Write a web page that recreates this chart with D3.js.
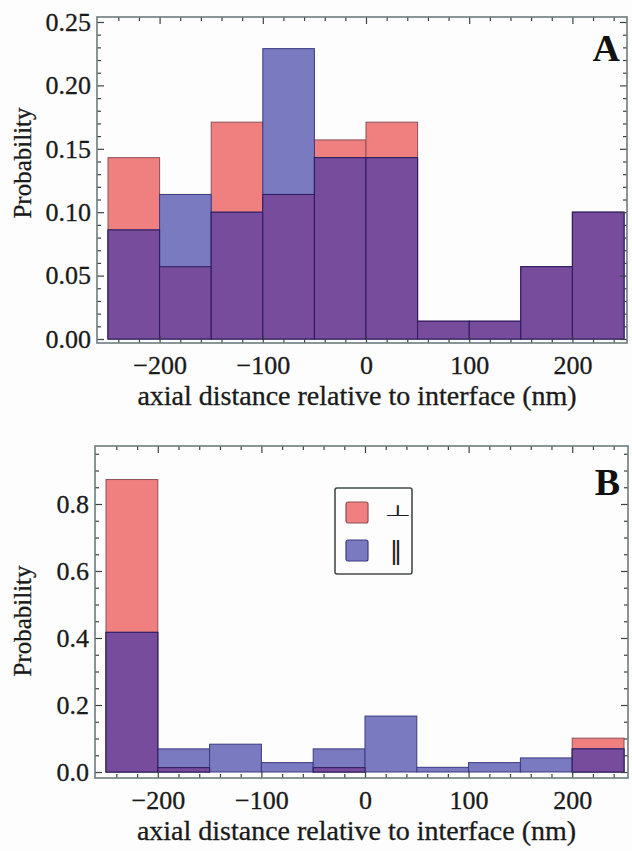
<!DOCTYPE html>
<html>
<head>
<meta charset="utf-8">
<script src="https://cdn.jsdelivr.net/npm/d3@7.9.0/dist/d3.min.js"></script>
<style>
  body { margin: 0; background: #fdfdfd; }
  svg { display: block; }
</style>
</head>
<body>
<svg id="chart" width="632" height="851"></svg>
<script>
// bins of 50 nm from -250 to 250
const binEdges = [-250, -200, -150, -100, -50, 0, 50, 100, 150, 200, 250];

// panel A
const perpA = [0.143, 0.057, 0.171, 0.114, 0.157, 0.171, 0.014, 0.014, 0.057, 0.100];
const parA  = [0.086, 0.114, 0.100, 0.229, 0.143, 0.143, 0.014, 0.014, 0.057, 0.100];
// panel B
const perpB = [0.873, 0.013, 0.000, 0.000, 0.013, 0.000, 0.000, 0.000, 0.000, 0.101];
const parB  = [0.417, 0.069, 0.083, 0.028, 0.069, 0.167, 0.014, 0.028, 0.042, 0.069];

const xTicks = [-200, -100, 0, 100, 200];
const yTicksA = [0, 0.05, 0.10, 0.15, 0.20, 0.25];
const yTicksB = [0, 0.2, 0.4, 0.6, 0.8];

const legendLabels = ['\u22A5', '\u2016'];

const xTitle = 'axial distance relative to interface (nm)';
const yTitle = 'Probability';

const red = '#f08080', blue = '#7a7ac0', purple = '#784c9c';
const frameColor = '#6d7c7c', tickColor = '#3a4444';
const serif = '"Liberation Serif", "Times New Roman", serif';

const svg = d3.select('#chart');

function drawPanel(p) {
    let g = svg.append('g');
    let f = p.frame;

    let x = d3.scaleLinear().domain([-250, 250]).range(p.xRange);
    let y = d3.scaleLinear().domain(p.yDomain).range(p.yRange);

    // bars: perpendicular, parallel, then the overlap on top
    let bins = p.perp.map((v, i) => ({
        x0: binEdges[i], x1: binEdges[i + 1], perp: v, par: p.par[i]
    }));
    let layers = [
        { key: (d) => d.perp, fill: red, stroke: '#8c5058' },
        { key: (d) => d.par, fill: blue, stroke: '#3a3a82' },
        { key: (d) => Math.min(d.perp, d.par), fill: purple, stroke: '#2a1a5c' }
    ];
    layers.forEach((l) => {
        g.append('g')
            .selectAll('rect')
            .data(bins.filter((d) => l.key(d) > 0))
            .join('rect')
            .attr('x', (d) => x(d.x0))
            .attr('width', (d) => x(d.x1) - x(d.x0))
            .attr('y', (d) => y(l.key(d)))
            .attr('height', (d) => y(0) - y(l.key(d)))
            .attr('fill', l.fill)
            .attr('stroke', l.stroke)
            .attr('stroke-width', 1);
    });

    // minor tick positions
    let xMinor = d3.range(-240, 250, 20).filter((v) => v % 100 !== 0);
    let yMinor = d3.range(0, p.yMax + 1e-9, p.yMinorStep)
        .filter((v) => !p.yTicks.some((t) => Math.abs(t - v) < 1e-9));

    let axes = [
        { ax: d3.axisBottom(x).tickValues(xTicks).tickFormat(d3.format('d')).tickSize(-7).tickPadding(13), pos: `translate(0,${f.b})` },
        { ax: d3.axisBottom(x).tickValues(xMinor).tickFormat('').tickSize(-4), pos: `translate(0,${f.b})` },
        { ax: d3.axisTop(x).tickValues(xTicks).tickFormat('').tickSize(-7), pos: `translate(0,${f.t})` },
        { ax: d3.axisTop(x).tickValues(xMinor).tickFormat('').tickSize(-4), pos: `translate(0,${f.t})` },
        { ax: d3.axisLeft(y).tickValues(p.yTicks).tickFormat(d3.format(p.yFormat)).tickSize(-7).tickPadding(6), pos: `translate(${f.l},0)` },
        { ax: d3.axisLeft(y).tickValues(yMinor).tickFormat('').tickSize(-4), pos: `translate(${f.l},0)` },
        { ax: d3.axisRight(y).tickValues(p.yTicks).tickFormat('').tickSize(-7), pos: `translate(${f.r},0)` },
        { ax: d3.axisRight(y).tickValues(yMinor).tickFormat('').tickSize(-4), pos: `translate(${f.r},0)` }
    ];
    axes.forEach((a) => {
        let ag = g.append('g').attr('transform', a.pos).call(a.ax);
        ag.select('.domain').remove();
        ag.selectAll('line').attr('stroke', tickColor).attr('stroke-width', 1.2);
        ag.attr('font-family', serif).attr('font-size', 26);
        ag.selectAll('text')
            .attr('fill', '#1a1a1a')
            .attr('stroke', '#1a1a1a')
            .attr('stroke-width', 0.3);
    });

    // frame
    g.append('rect')
        .attr('x', f.l).attr('y', f.t)
        .attr('width', f.r - f.l).attr('height', f.b - f.t)
        .attr('fill', 'none')
        .attr('stroke', frameColor)
        .attr('stroke-width', 1.6);

    // axis titles
    g.append('text')
        .attr('x', (f.l + f.r) / 2 - 5)
        .attr('y', p.xTitleY)
        .attr('text-anchor', 'middle')
        .attr('font-family', serif)
        .attr('font-size', 28)
        .attr('fill', '#1a1a1a')
        .attr('stroke', '#1a1a1a').attr('stroke-width', 0.3)
        .text(xTitle);
    g.append('text')
        .attr('transform', `translate(31,${p.yTitleY}) rotate(-90)`)
        .attr('text-anchor', 'middle')
        .attr('font-family', serif)
        .attr('font-size', 25)
        .attr('fill', '#1a1a1a')
        .attr('stroke', '#1a1a1a').attr('stroke-width', 0.3)
        .text(yTitle);

    // panel letter
    g.append('text')
        .attr('x', 620).attr('y', p.letterY)
        .attr('text-anchor', 'end')
        .attr('font-family', serif)
        .attr('font-size', 38)
        .attr('font-weight', 'bold')
        .attr('fill', '#111')
        .text(p.letter);

    return g;
}

drawPanel({
    frame: { l: 97, r: 627, t: 17, b: 343 },
    xRange: [108, 624],
    yDomain: [0, 0.25], yRange: [339, 22],
    yTicks: yTicksA, yMax: 0.25, yMinorStep: 0.01, yFormat: '.2f',
    perp: perpA, par: parA,
    xTitleY: 405, yTitleY: 163,
    letter: 'A', letterY: 61
});

let gB = drawPanel({
    frame: { l: 95, r: 628, t: 446, b: 778 },
    xRange: [106, 624],
    yDomain: [0, 0.8], yRange: [772, 504],
    yTicks: yTicksB, yMax: 0.96, yMinorStep: 0.05, yFormat: '.1f',
    perp: perpB, par: parB,
    xTitleY: 840, yTitleY: 621,
    letter: 'B', letterY: 495
});

// legend in panel B
let lg = gB.append('g').attr('transform', 'translate(335,488)');
lg.append('rect')
    .attr('width', 77).attr('height', 86).attr('rx', 2)
    .attr('fill', '#fdfdfd')
    .attr('stroke', '#444c4c').attr('stroke-width', 1.6);
let items = lg.selectAll('g.item')
    .data(legendLabels)
    .join('g')
    .attr('class', 'item')
    .attr('transform', (d, i) => `translate(11,${14 + i * 38})`);
items.append('rect')
    .attr('width', 22).attr('height', 21).attr('rx', 2)
    .attr('fill', (d, i) => [red, blue][i])
    .attr('stroke', (d, i) => ['#8c5058', '#3a3a82'][i])
    .attr('stroke-width', 1.2);
items.append('text')
    .attr('transform', (d, i) => i === 0 ? 'translate(52,14) scale(1,0.5)' : 'translate(50,19)')
    .attr('text-anchor', 'middle')
    .attr('font-family', '"DejaVu Sans", sans-serif')
    .attr('font-size', (d, i) => [31, 25][i])
    .attr('fill', '#222')
    .text((d) => d);
</script>
</body>
</html>
